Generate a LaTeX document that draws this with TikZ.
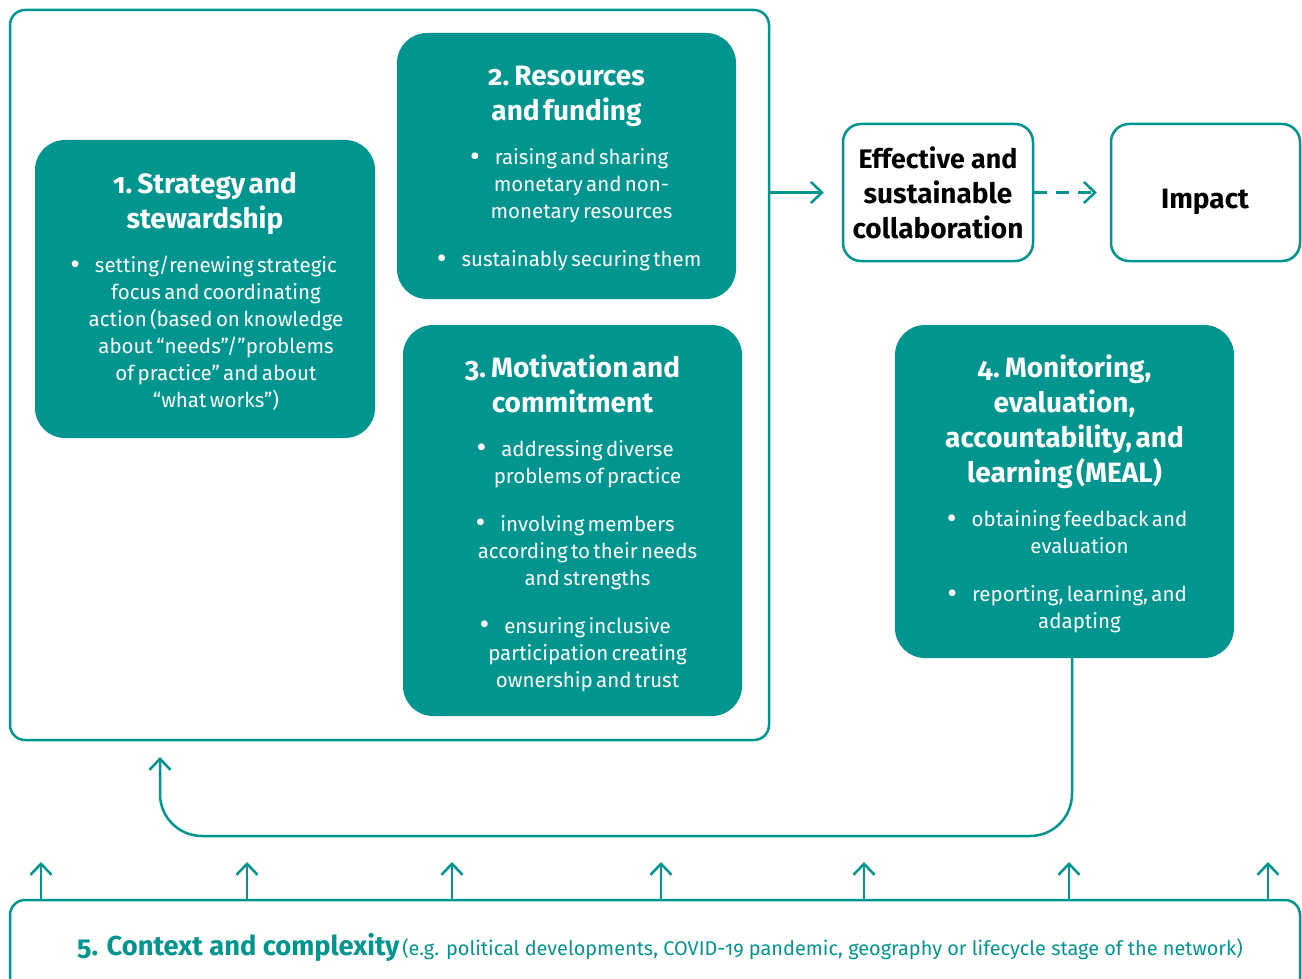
\documentclass[tikz,border=0pt]{standalone}
\usepackage{fontspec}
\setmainfont{Fira Sans}[Numbers=OldStyle]
\usetikzlibrary{arrows.meta,calc}
\definecolor{teal1}{HTML}{00968F}
\newcommand\ttl{\fontsize{28}{35}\selectfont\bfseries}
\newcommand\bdy{\normalfont\fontsize{20.5}{27}\selectfont}
\newcommand\bul{\leavevmode\llap{{\fontsize{30}{27}\selectfont\raisebox{-1.5pt}{\textbullet}}\hspace{15pt}}}
\newcommand\closegap{\par\kern-5pt}
\tikzset{
  tbox/.style={fill=teal1, draw=none, rounded corners=30pt, text=white, align=center, inner sep=0pt},
  wbox/.style={draw=teal1, line width=2.5pt, fill=white, rounded corners=18pt, align=center, inner sep=0pt, font=\ttl},
  conn/.style={draw=teal1, line width=2.5pt, -{Straight Barb[length=11pt,width=21pt]}},
  plain/.style={draw=teal1, line width=2.5pt}
}
\begin{document}
\begin{tikzpicture}[x=1pt,y=-1pt]
\clip (0,0) rectangle (1302,979);
% outer frame
\node[plain, rounded corners=15pt, minimum width=759pt, minimum height=730pt, inner sep=0pt] (outer) at (389.5,375) {};
% box 1
\node[tbox, minimum width=340pt, minimum height=298pt, text width=320pt] (s1) at (205,289)
{\ttl 1. Strategy and\\stewardship\par\vspace{17pt}
 \bdy\leftskip=22pt plus 1fil\rightskip=0pt plus 1fil
 \bul setting/renewing strategic\\focus and coordinating\\action (based on knowledge\\about “needs”/”problems\\of practice” and about\\“what works”)\closegap};
% box 2
\node[tbox, minimum width=339pt, minimum height=266pt, text width=320pt] (s2) at (566.5,166)
{\ttl 2. Resources\\and funding\par\vspace{17pt}
 \bdy\leftskip=30pt plus 1fil\rightskip=0pt plus 1fil
 \bul raising and sharing\\monetary and non-\\monetary resources\par\vspace{21pt}
 \bul sustainably securing them\closegap};
% box 3
\node[tbox, minimum width=339pt, minimum height=391pt, text width=320pt] (s3) at (572.5,520.5)
{\ttl 3. Motivation and\\commitment\par\vspace{17pt}
 \bdy\leftskip=30pt plus 1fil\rightskip=0pt plus 1fil
 \bul addressing diverse\\problems of practice\par\vspace{21pt}
 \bul involving members\\according to their needs\\and strengths\par\vspace{21pt}
 \bul ensuring inclusive\\participation creating\\ownership and trust\closegap};
% box 4
\node[tbox, minimum width=339pt, minimum height=333pt, text width=320pt] (s4) at (1064.5,491.5)
{\ttl 4. Monitoring,\\evaluation,\\accountability, and\\learning (MEAL)\par\vspace{17pt}
 \bdy\leftskip=30pt plus 1fil\rightskip=0pt plus 1fil
 \bul obtaining feedback and\\evaluation\par\vspace{21pt}
 \bul reporting, learning, and\\adapting\closegap};
% outcome boxes
\node[wbox, minimum width=190pt, minimum height=137pt] (eff) at (938,192.5) {\fontsize{26.8}{35}\selectfont Effective and\\sustainable\\collaboration};
\node[wbox, minimum width=189pt, minimum height=137pt] (imp) at (1205.5,192.5) {};
\node[font=\ttl, inner sep=0pt] (impt) at (1205,202) {Impact};
\draw[conn, shorten >=18pt] (outer.east |- eff.west) -- (eff.west);
\draw[conn, dash pattern=on 13pt off 9pt, shorten >=13pt] (eff.east) -- (imp.west);
% feedback loop
\coordinate (fbtip) at (160,757);
\coordinate (fbturn) at (1072,836);
\draw[conn, rounded corners=42pt] ([xshift=7.5pt]s4.south) -- (fbturn) -- (fbturn -| fbtip) -- (fbtip);
% context box
\node[plain, rounded corners=15pt, minimum width=1290pt, minimum height=100pt, inner sep=0pt] (ctx) at (655,950) {};
\node[anchor=base, text=teal1, inner sep=0pt] (ctxt) at (660,955)
{{\fontsize{27.3}{34}\selectfont\bfseries 5. Context and complexity} {\fontsize{19.9}{26}\selectfont (e.g. political developments, COVID-19 pandemic, geography or lifecycle stage of the network)}};
\foreach \i/\x in {1/41,2/247,3/452,4/661,5/864,6/1069,7/1268}{
  \coordinate (t\i) at (\x,862);
  \draw[conn] (t\i |- ctx.north) -- (t\i);
}
\end{tikzpicture}
\end{document}
